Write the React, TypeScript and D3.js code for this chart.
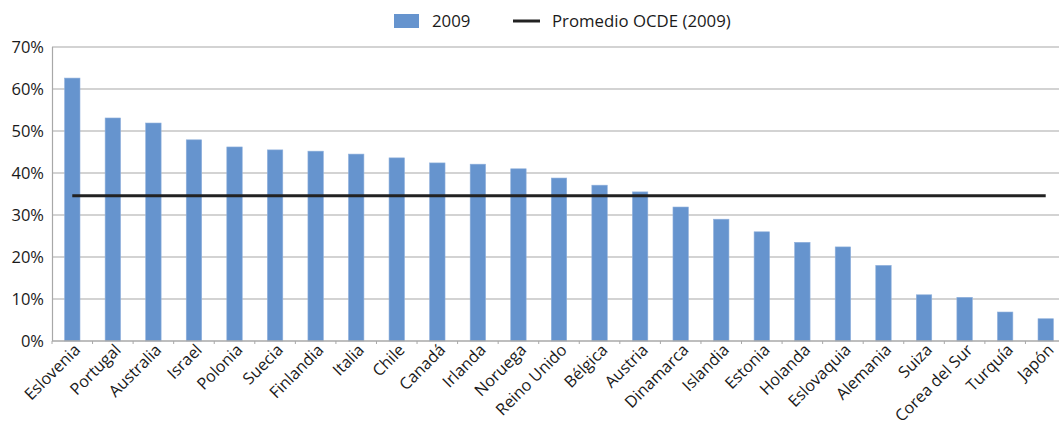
import React from "react";
import * as d3 from "d3";

const categories = ["Eslovenia","Portugal","Australia","Israel","Polonia","Suecia","Finlandia","Italia","Chile","Canadá","Irlanda","Noruega","Reino Unido","Bélgica","Austria","Dinamarca","Islandia","Estonia","Holanda","Eslovaquia","Alemania","Suiza","Corea del Sur","Turquía","Japón"];
const values2009 = [62.6,53.1,51.9,47.9,46.2,45.5,45.2,44.5,43.6,42.4,42.1,41.0,38.8,37.1,35.5,31.9,29.0,26.0,23.5,22.4,18.0,11.0,10.4,6.9,5.3];
const oecdAverage = 34.6;
const yTicks = [0,10,20,30,40,50,60,70];
const seriesLabel = "2009";
const lineLabel = "Promedio OCDE (2009)";

export default function App() {
  const W = 1059, H = 429;
  const left = 52, right = 1066, top = 47, bottom = 341;
  const font = "'Open Sans', 'DejaVu Sans', sans-serif";
  const x = d3.scaleBand<string>().domain(categories).range([left, right]).paddingInner(0.62).paddingOuter(0.31);
  const band = d3.scaleBand<string>().domain(categories).range([left, right]);
  const y = d3.scaleLinear().domain([0, 70]).range([bottom, top]);
  const lineGen = d3.line<[number, number]>().x(d => d[0]).y(d => d[1]);
  const first = categories[0], last = categories[categories.length - 1];
  const avgPts: [number, number][] = [
    [band(first)! + band.bandwidth() / 2, y(oecdAverage)],
    [band(last)! + band.bandwidth() / 2, y(oecdAverage)],
  ];
  return (
    <svg width={W} height={H} style={{ position: "absolute", left: 0, top: 0, background: "#fff" }} fontFamily={font}>
      {/* legend */}
      <rect x={394} y={14} width={25} height={14} fill="#6694CE" />
      <text x={432} y={27} fontSize={16.8} fill="#1a1a1a">{seriesLabel}</text>
      <line x1={513} x2={540} y1={21} y2={21} stroke="#222" strokeWidth={3} />
      <text x={552} y={27} fontSize={16.8} fill="#1a1a1a">{lineLabel}</text>

      {/* gridlines */}
      {yTicks.filter(t => t > 0).map(t => (
        <line key={t} x1={left} x2={W} y1={y(t)} y2={y(t)} stroke="#a8a8a8" strokeWidth={1.2} />
      ))}
      {/* y axis */}
      <line x1={left + 0.5} x2={left + 0.5} y1={top} y2={bottom} stroke="#a8a8a8" strokeWidth={1.2} />
      {yTicks.map(t => (
        <text key={t} x={44} y={y(t) + 6} fontSize={16.5} textAnchor="end" fill="#1a1a1a">{t}%</text>
      ))}

      {/* bars */}
      {categories.map((c, i) => (
        <rect key={c} x={x(c)} y={y(values2009[i])} width={x.bandwidth()} height={bottom - y(values2009[i])} fill="#6694CE" stroke="#8fb0dc" strokeWidth={0.6} />
      ))}

      {/* x axis */}
      <line x1={left} x2={W} y1={bottom} y2={bottom} stroke="#a8a8a8" strokeWidth={1.5} />
      {categories.map(c => (
        <line key={c} x1={band(c)!} x2={band(c)!} y1={bottom} y2={bottom + 3} stroke="#a8a8a8" strokeWidth={1} />
      ))}
      {categories.map(c => {
        const cx = band(c)! + band.bandwidth() / 2 + 9;
        const cy = 351;
        return (
          <text key={c} x={cx} y={cy} fontSize={16.2} textAnchor="end" fill="#1a1a1a" transform={`rotate(-45 ${cx} ${cy})`}>{c}</text>
        );
      })}

      {/* average line */}
      <path d={lineGen(avgPts)!} stroke="#222" strokeWidth={3} fill="none" />
    </svg>
  );
}
